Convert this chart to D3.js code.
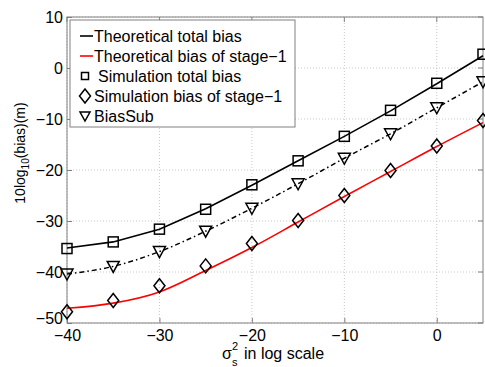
<!DOCTYPE html>
<html>
<head>
<meta charset="utf-8">
<script src="https://cdn.jsdelivr.net/npm/d3@7"></script>
<style>
  body { margin: 0; background: #fff; }
  svg { font-family: "Liberation Sans", Arial, sans-serif; }
  .grid line { stroke: #c8c8c8; stroke-dasharray: 1,2; }
</style>
</head>
<body>
<div id="chart"></div>
<script>
const xVals = [-40, -35, -30, -25, -20, -15, -10, -5, 0, 5];
const theoTotal  = [-35.3, -34.1, -31.6, -27.6, -23.0, -18.2, -13.4, -8.4, -3.1, 2.4];
const theoStage1 = [-47.1, -46.1, -43.9, -39.7, -35.2, -30.2, -25.2, -20.3, -15.4, -10.7];
const simTotal   = [-35.4, -34.1, -31.6, -27.7, -22.9, -18.2, -13.4, -8.3, -3.0, 2.7];
const simStage1  = [-47.8, -45.6, -42.7, -38.8, -34.4, -29.9, -25.0, -20.1, -15.3, -10.3];
const biasSub    = [-40.4, -38.9, -36.0, -32.0, -27.5, -22.7, -17.7, -12.9, -7.8, -2.7];
const xTicks = [-40, -30, -20, -10, 0];
const yTicks = [10, 0, -10, -20, -30, -40, -50];
const legendLabels = ["Theoretical total bias", "Theoretical bias of stage\u22121",
  "Simulation total bias", "Simulation bias of stage\u22121", "BiasSub"];

const W = 485, H = 367;
const pLeft = 67, pRight = 483, pTop = 17, pBottom = 323;

const svg = d3.select("#chart").append("svg")
  .attr("width", W).attr("height", H);

const x = d3.scaleLinear().domain([-40, 5]).range([pLeft, pRight]);
const y = d3.scaleLinear().domain([-50, 10]).range([pBottom, pTop]);

// grid
const grid = svg.append("g").attr("class", "grid");
xTicks.forEach(t => grid.append("line")
  .attr("x1", x(t)).attr("x2", x(t)).attr("y1", pTop).attr("y2", pBottom));
yTicks.forEach(t => grid.append("line")
  .attr("x1", pLeft).attr("x2", pRight).attr("y1", y(t)).attr("y2", y(t)));

// axes box
svg.append("rect").attr("x", pLeft).attr("y", pTop)
  .attr("width", pRight - pLeft).attr("height", pBottom - pTop)
  .attr("fill", "none").attr("stroke", "#808080");

const fmt = d => d < 0 ? "\u2212" + Math.abs(d) : "" + d;

const xAxis = svg.append("g").attr("transform", `translate(0,${pBottom})`)
  .call(d3.axisBottom(x).tickValues(xTicks).tickSizeInner(-5).tickSizeOuter(0).tickPadding(7).tickFormat(fmt));
const yAxis = svg.append("g").attr("transform", `translate(${pLeft},0)`)
  .call(d3.axisLeft(y).tickValues(yTicks).tickSizeInner(-5).tickSizeOuter(0).tickPadding(4).tickFormat(fmt));
[xAxis, yAxis].forEach(a => {
  a.select(".domain").remove();
  a.selectAll("line").attr("stroke", "#808080");
  a.selectAll("text").style("font-size", "16px").attr("fill", "#000");
});
// the lowest y label sits against the first x label, as in the original
yAxis.selectAll(".tick").filter(d => d === -50).select("text").attr("dy", "0.05em");

// top/right ticks
svg.append("g").selectAll("line").data(xTicks).join("line")
  .attr("x1", d => x(d)).attr("x2", d => x(d)).attr("y1", pTop).attr("y2", pTop + 5)
  .attr("stroke", "#808080");
svg.append("g").selectAll("line").data(yTicks).join("line")
  .attr("x1", pRight).attr("x2", pRight - 5).attr("y1", d => y(d)).attr("y2", d => y(d))
  .attr("stroke", "#808080");

// lines
const line = vals => d3.line().x((d, i) => x(xVals[i])).y(d => y(d))(vals);
const lineCurve = vals => d3.line().curve(d3.curveMonotoneX).x((d, i) => x(xVals[i])).y(d => y(d))(vals);

svg.append("path").attr("d", lineCurve(biasSub)).attr("fill", "none")
  .attr("stroke", "#000").attr("stroke-width", 1.5).attr("stroke-dasharray", "5,3,1.5,3");
svg.append("path").attr("d", lineCurve(theoStage1)).attr("fill", "none")
  .attr("stroke", "#ff0000").attr("stroke-width", 1.6);
svg.append("path").attr("d", line(theoTotal)).attr("fill", "none")
  .attr("stroke", "#000").attr("stroke-width", 1.6);

// markers
const square = (g, cx, cy) => g.append("rect").attr("x", cx - 5).attr("y", cy - 5)
  .attr("width", 10).attr("height", 10).attr("fill", "none").attr("stroke", "#000").attr("stroke-width", 1.5);
const diamond = (g, cx, cy) => g.append("path")
  .attr("d", `M${cx},${cy - 7}L${cx + 5.5},${cy}L${cx},${cy + 7}L${cx - 5.5},${cy}Z`)
  .attr("fill", "none").attr("stroke", "#000").attr("stroke-width", 1.5);
const tri = (g, cx, cy) => g.append("path")
  .attr("d", `M${cx - 6},${cy - 5}L${cx + 6},${cy - 5}L${cx},${cy + 6}Z`)
  .attr("fill", "none").attr("stroke", "#000").attr("stroke-width", 1.5);

const mk = svg.append("g");
xVals.forEach((v, i) => {
  square(mk, x(v), y(simTotal[i]));
  diamond(mk, x(v), y(simStage1[i]));
  tri(mk, x(v), y(biasSub[i]));
});

// legend
const lg = svg.append("g");
lg.append("rect").attr("x", 70).attr("y", 20).attr("width", 225).attr("height", 107)
  .attr("fill", "#fff").attr("stroke", "#808080");
const rowY = [36, 56, 76, 96, 116];
legendLabels.forEach((lab, i) => {
  const cy = rowY[i];
  if (i === 0 || i === 1) {
    lg.append("line").attr("x1", 80).attr("x2", 93).attr("y1", cy).attr("y2", cy)
      .attr("stroke", i === 0 ? "#000" : "#ff0000").attr("stroke-width", 1.6);
  } else if (i === 2) {
    lg.append("rect").attr("x", 81.5).attr("y", cy - 3.5).attr("width", 7).attr("height", 7)
      .attr("fill", "none").attr("stroke", "#000").attr("stroke-width", 1.5);
  } else if (i === 3) {
    diamond(lg, 85, cy);
  } else {
    lg.append("path").attr("d", `M${80},${cy - 4}L${90},${cy - 4}L${85},${cy + 5}Z`)
      .attr("fill", "none").attr("stroke", "#000").attr("stroke-width", 1.5);
  }
  lg.append("text").attr("x", i === 2 ? 98 : 94).attr("y", cy + 6)
    .style("font-size", "16px").text(lab);
});

// axis labels
svg.append("text").attr("x", 222).attr("y", 359).style("font-size", "16px").text("\u03c3");
svg.append("text").attr("x", 232).attr("y", 350).style("font-size", "11px").text("2");
svg.append("text").attr("x", 232).attr("y", 366).style("font-size", "11px").text("s");
svg.append("text").attr("x", 244).attr("y", 359).style("font-size", "16px").text("in log scale");

const yl = svg.append("text").attr("transform", "translate(25,153) rotate(-90)")
  .attr("text-anchor", "middle").style("font-size", "14px");
yl.append("tspan").text("10log");
yl.append("tspan").attr("dy", 4).style("font-size", "10px").text("10");
yl.append("tspan").attr("dy", -4).text("(bias)(m)");
</script>
</body>
</html>
